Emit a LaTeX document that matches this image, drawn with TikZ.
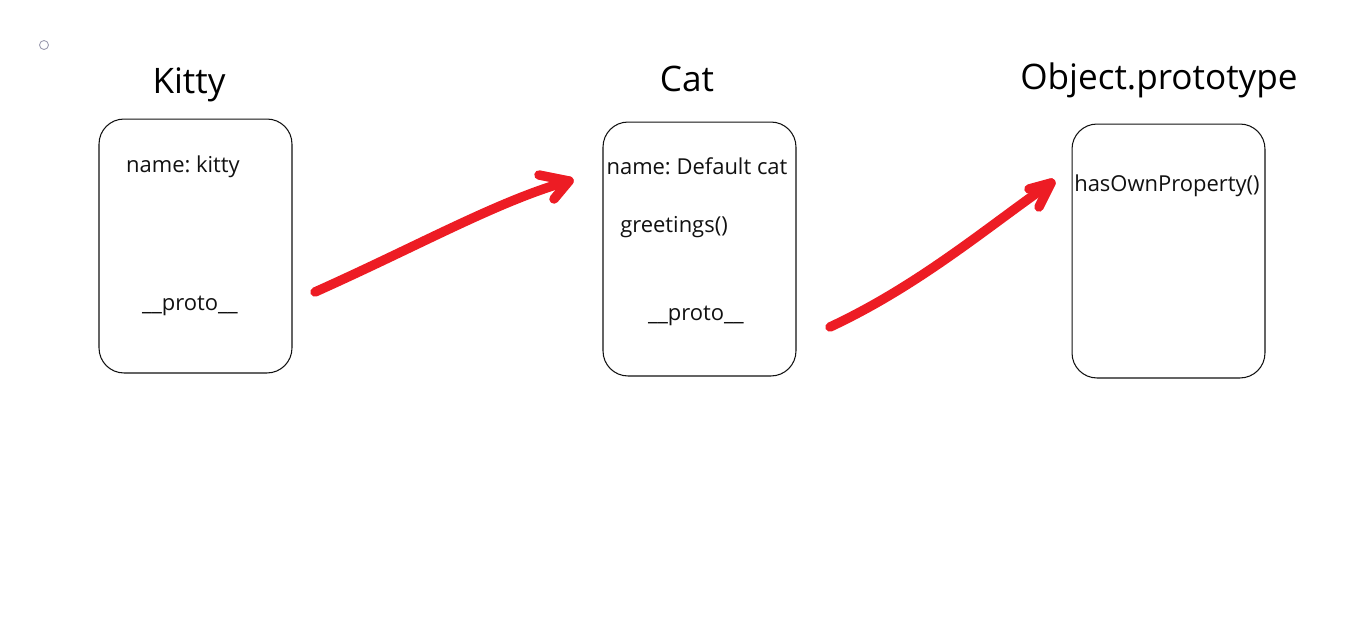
\documentclass[tikz,border=0pt]{standalone}
\usepackage{fontspec}
\setmainfont{Open Sans}
\usepackage{xcolor}
\usepackage{tikz}
\definecolor{penRed}{HTML}{ED1C24}
\definecolor{boxInk}{HTML}{111111}
\definecolor{dotGrey}{HTML}{9A9AAE}
\frenchspacing

\begin{document}
\begin{tikzpicture}[x=0.02cm, y=-0.02cm, line cap=round, line join=round,
  objbox/.style={draw=boxInk, line width=0.6pt, rounded corners=0.5cm,
    minimum width=3.86cm, minimum height=5.08cm, inner sep=0pt},
  titletext/.style={anchor=base, font=\fontsize{20}{24}\selectfont},
  proptext/.style={anchor=base, text=boxInk, font=\fontsize{12.5}{15}\selectfont},
  redpen/.style={penRed, line width=0.19cm}]
  \useasboundingbox (0,0) rectangle (1350,629);
  \draw[dotGrey, line width=0.5pt] (44,45) circle[radius=0.09cm];

  % the three objects
  \node[objbox] (kitty) at (195.5,246) {};
  \node[objbox] (cat) at (699.5,249) {};
  \node[objbox] (objproto) at (1168.5,251) {};

  \foreach \x/\y/\nm/\lbl in {189/93/kittyTitle/Kitty, 687/91/catTitle/Cat, 1159/89/protoTitle/Object.prototype}{%
    \node[titletext] (\nm) at (\x,\y) {\lbl};
  }

  % properties
  \node[proptext] (kittyName) at (183,172) {name: kitty};
  \node[proptext] (kittyProto) at (190,310) {\_\_proto\_\_};
  \node[proptext] (catName) at (697,174) {name: Default cat};
  \node[proptext] (catGreet) at (674,232) {greetings()};
  \node[proptext] (catProto) at (696,320) {\_\_proto\_\_};
  \node[proptext] (hasOwn) at (1167,191) {hasOwnProperty()};

  % prototype links
  \coordinate (kittyOut) at (315,292);
  \coordinate (catIn) at (569,181);
  \coordinate (catOut) at (830,327);
  \coordinate (protoIn) at (1051,183);
  \draw[redpen] (kittyOut) .. controls (420,245) and (500,200) .. (catIn);
  \draw[redpen] (catIn) ++(-30,-6) -- (catIn) -- ++(-15,18);
  \draw[redpen] (catOut) .. controls (920,285) and (990,225) .. (protoIn);
  \draw[redpen] (protoIn) ++(-22,6) -- (protoIn) -- ++(-12,24);
\end{tikzpicture}
\end{document}
